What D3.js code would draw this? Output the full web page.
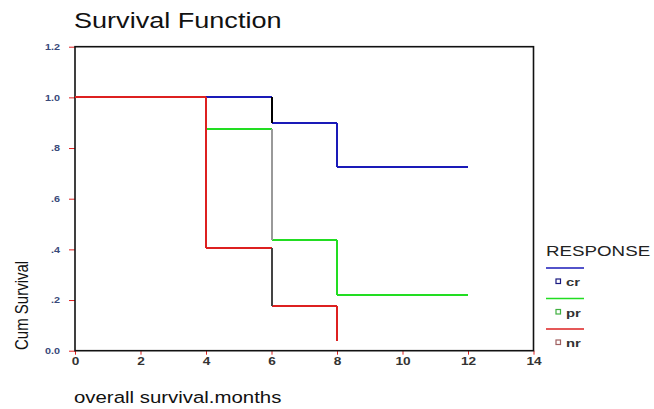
<!DOCTYPE html>
<html>
<head>
<meta charset="utf-8">
<script src="https://cdn.jsdelivr.net/npm/d3@7"></script>
<style>
  body { margin: 0; background: #fff; }
  text { font-family: "Liberation Sans", Arial, sans-serif; }
</style>
</head>
<body>
<svg id="chart" width="654" height="409"></svg>
<script>
// survival steps
var groups = ["cr", "pr", "nr"];
var crTimes = [0, 6, 8, 12];
var crSurv = [1.0, 0.9, 0.725, 0.725];
var prTimes = [0, 4, 6, 8, 12];
var prSurv = [1.0, 0.875, 0.4375, 0.22, 0.22];
var nrTimes = [0, 4, 6, 8];
var nrSurv = [1.0, 0.405, 0.175, 0.04];

var xTicks = [0, 2, 4, 6, 8, 10, 12, 14];
var yTicks = [0, 0.2, 0.4, 0.6, 0.8, 1.0, 1.2];
var yTickLabels = ["0.0", ".2", ".4", ".6", ".8", "1.0", "1.2"];

var series = {
  cr: {times: crTimes, surv: crSurv},
  pr: {times: prTimes, surv: prSurv},
  nr: {times: nrTimes, surv: nrSurv}
};
var colors = {cr: "#1a1ab8", pr: "#22dd22", nr: "#dd2020"};
// the drop at 6 months comes out grey/black in the original
var dropColors = {
  cr: ["#000000", "#1a1ab8"],
  pr: ["#dd2020", "#999999", "#22dd22"],
  nr: ["#dd2020", "#444444", "#dd2020"]
};
var markColors = {cr: "#1a1a80", pr: "#40b040", nr: "#a06060"};

var svg = d3.select("#chart");
var margin = {left: 75, top: 46.7, right: 120.5, bottom: 58.3};
var width = 654 - margin.left - margin.right;
var height = 409 - margin.top - margin.bottom;

var x = d3.scaleLinear().domain([0, 14]).range([margin.left, margin.left + width]);
var y = d3.scaleLinear().domain([0, 1.2]).range([margin.top + height, margin.top]);

// y axis
var yAxis = svg.append("g")
    .attr("transform", "translate(" + margin.left + ",0)")
    .call(d3.axisLeft(y).tickValues(yTicks)
      .tickFormat(function(d, i) { return yTickLabels[i]; })
      .tickSize(6).tickPadding(6.5));
yAxis.select(".domain").remove();
yAxis.selectAll("line").attr("stroke", "#e02020");
yAxis.selectAll("text")
    .attr("transform", "scale(1.2,1)")
    .attr("fill", "#3a4a7a")
    .style("font-size", "9px")
    .style("font-weight", "bold");

// x axis
var xAxis = svg.append("g")
    .attr("transform", "translate(0," + (margin.top + height) + ")")
    .call(d3.axisBottom(x).tickValues(xTicks).tickSize(4).tickPadding(2.8));
xAxis.select(".domain").remove();
xAxis.selectAll("line").attr("stroke", "#e02020");
xAxis.selectAll("text")
    .attr("transform", "scale(1.3,1)")
    .attr("fill", "#333")
    .style("font-size", "10.5px")
    .style("font-weight", "bold");

// frame
svg.append("rect")
    .attr("x", x(0)).attr("y", y(1.2))
    .attr("width", x(14) - x(0)).attr("height", y(0) - y(1.2))
    .attr("fill", "none").attr("stroke", "#111").attr("stroke-width", 1.6);

// steps
groups.forEach(function(gName) {
  var s = series[gName];
  var g = svg.append("g").attr("id", gName + "Line")
      .attr("shape-rendering", "crispEdges");
  for (var i = 0; i < s.times.length - 1; i++) {
    g.append("line")
      .attr("x1", x(s.times[i])).attr("x2", x(s.times[i + 1]))
      .attr("y1", y(s.surv[i])).attr("y2", y(s.surv[i]))
      .attr("stroke", colors[gName]).attr("stroke-width", 2);
  }
  for (var j = 1; j < s.times.length; j++) {
    if (s.surv[j] === s.surv[j - 1]) continue;
    g.append("line")
      .attr("x1", x(s.times[j])).attr("x2", x(s.times[j]))
      .attr("y1", y(s.surv[j - 1])).attr("y2", y(s.surv[j]))
      .attr("stroke", dropColors[gName][j - 1]).attr("stroke-width", 2);
  }
});

// title and axis titles
svg.append("g").attr("transform", "translate(74,28) scale(1.23,1)")
  .append("text").text("Survival Function")
    .style("font-size", "22px").attr("fill", "#111");

svg.append("g").attr("transform", "translate(74,403) scale(1.2,1)")
  .append("text").text("overall survival.months")
    .style("font-size", "17px").attr("fill", "#111");

svg.append("g").attr("transform", "translate(27.5,350) scale(1.25,1) rotate(-90)")
  .append("text").text("Cum Survival")
    .style("font-size", "15px").attr("fill", "#111");

// legend
var lg = svg.append("g");
lg.append("g").attr("transform", "translate(546,256) scale(1.25,1)")
  .append("text").text("RESPONSE")
    .style("font-size", "15px").attr("fill", "#222");

var legendY = d3.scalePoint().domain(groups).range([268, 329]);
groups.forEach(function(gName) {
  var ly = legendY(gName);
  lg.append("line")
    .attr("x1", 546).attr("x2", 584).attr("y1", ly).attr("y2", ly)
    .attr("stroke", colors[gName]).attr("stroke-width", 1.5);
  lg.append("rect")
    .attr("x", 556).attr("y", ly + 11).attr("width", 4.5).attr("height", 4.5)
    .attr("fill", "none").attr("stroke", markColors[gName]).attr("stroke-width", 1.2);
  lg.append("g").attr("transform", "translate(566," + (ly + 18) + ") scale(1.35,1)")
    .append("text").text(gName)
      .style("font-size", "11px").style("font-weight", "bold").attr("fill", "#333");
});
</script>
</body>
</html>
